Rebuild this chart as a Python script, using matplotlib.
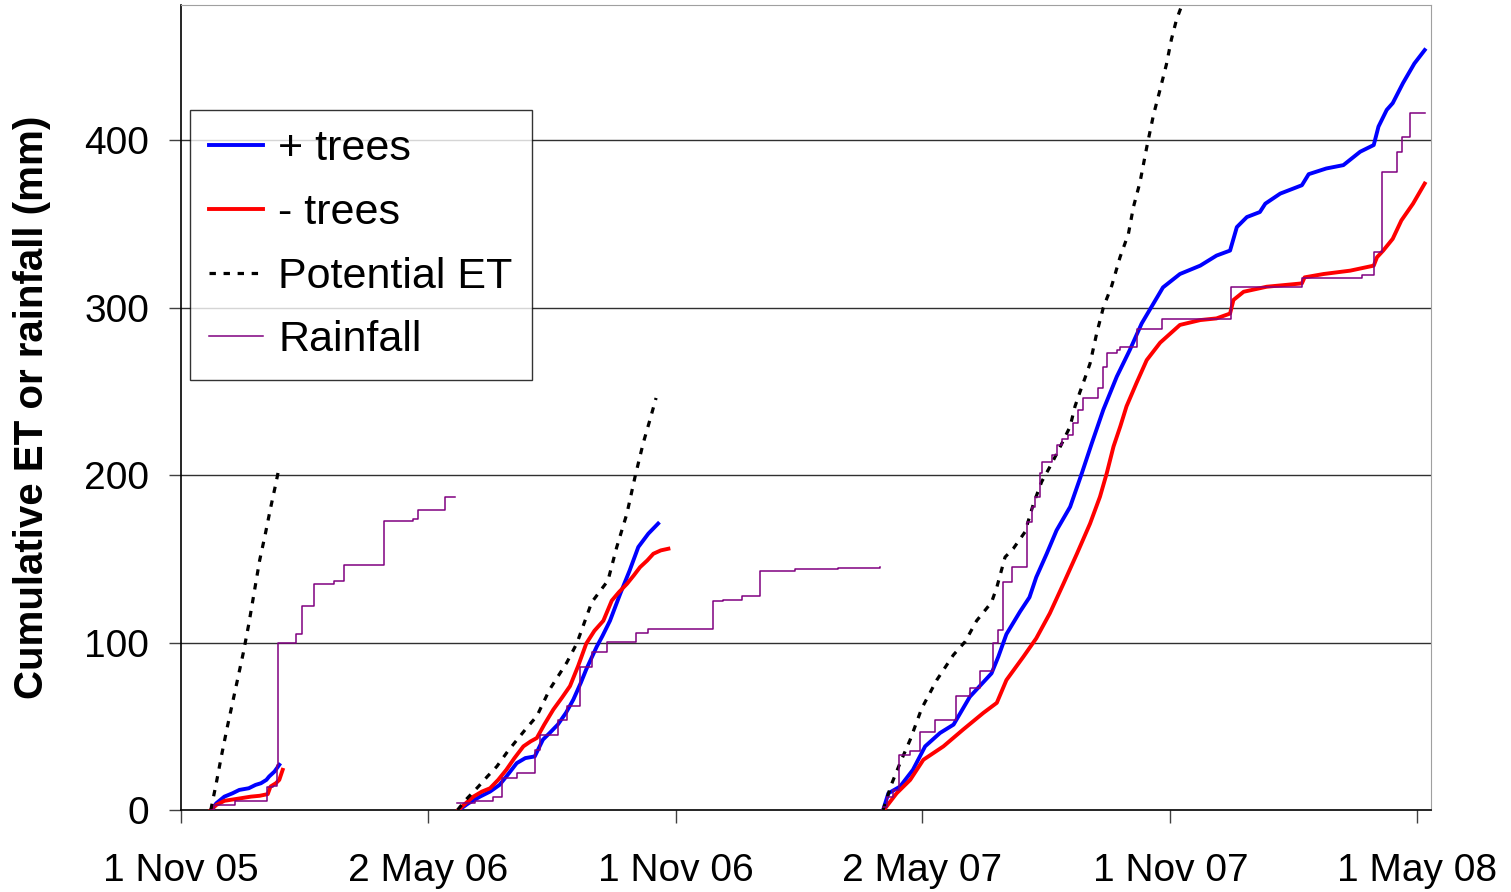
import numpy as np
import matplotlib
matplotlib.use('Agg')
import matplotlib.pyplot as plt

plt.rcParams['font.family'] = ['Liberation Sans', 'DejaVu Sans']

# x = days since 1 Nov 2005

# ---- period 1 (Nov-Dec 05)
et1_d = [22, 26, 30, 34, 38, 42, 46, 50, 54, 58, 62, 66, 70, 72]
et1_v = [0, 16, 33, 49, 64, 79, 94, 111, 130, 149, 164, 180, 195, 203]
tr1_d = [22.5, 26, 32, 38, 43, 50, 55, 59, 63, 65, 69, 72.5]
tr1_v = [0, 4, 8, 10, 12, 13, 15, 16, 18, 20, 23, 27]
nt1_d = [22, 26, 32, 40, 51.6, 58, 64, 66, 70, 72.5, 75]
nt1_v = [0, 3, 5.5, 6.5, 8, 8.5, 9.5, 14, 16, 18, 24]
rain1_d = [22, 24, 39.5, 63.5, 68, 71, 71.5, 85, 89, 98, 112.6, 120.5, 150, 171, 175, 195, 202]
rain1_v = [0, 3, 5.5, 13.5, 14.5, 27, 100, 105, 122, 135, 136.5, 146, 172.5, 174, 179, 187, 187]

# ---- period 2 (May-Oct 06)
et2_d = [204, 210, 219.4, 226, 233, 241, 249, 255, 262.5, 272, 284.6, 292, 303, 315, 321.5, 329, 335, 341, 346, 350.5]
et2_v = [0, 6, 14, 20, 26, 35, 43, 49, 56, 72, 88, 99.4, 124, 137, 157, 177, 199, 219, 233, 246]
tr2_d = [205, 212, 220.6, 228, 235, 241, 247.7, 254, 261, 267, 272, 278, 284, 289.5, 295, 299, 306.7, 311,
         316.5, 324, 331, 337.4, 344.8, 352]
tr2_v = [0, 4, 8, 11, 15, 21, 28, 31, 32, 42, 46, 51, 58, 66, 76, 84, 97.5, 104,
         113, 129, 143, 157, 165, 171]
nt2_d = [204.6, 210, 215.7, 222, 228, 234, 240, 246, 252.6, 258, 262.5, 268, 274.7, 281, 287, 293, 299, 305,
         311.6, 317.8, 323, 329, 334, 338.7, 344, 348.5, 354, 359.6]
nt2_v = [0, 4, 8, 11, 13, 18, 24, 31, 38, 41, 43, 51, 60, 67, 74, 86, 99.4, 107,
         113, 125, 130, 135, 140, 145, 149, 153, 155, 156]
rain2_d = [203.4, 217, 230.4, 237, 248, 261, 265, 278, 284.6, 294.4, 303, 314, 336, 344.8, 392.3, 400,
           413.7, 427, 453, 485, 515.7]
rain2_v = [4.4, 5.6, 8, 19, 22, 36, 45, 54, 62, 85.5, 94.4, 100.4, 105.4, 107.8, 124.8, 125.5,
           128, 142.7, 143.6, 144.2, 144.8]

# ---- period 3 (May 07 - May 08)
et3_d = [518, 524, 530.5, 538, 546.5, 557.6, 569.8, 578.5, 587, 598, 601.9, 608, 614, 622.7, 629, 635, 642.5,
         650, 656, 659.6, 663, 667, 670.7, 675.6, 680.5, 686.7, 692.8, 699, 702.7, 707.6, 712.6, 717.5,
         722, 727, 730.7, 734.4, 738, 741]
et3_v = [0, 15, 28, 42, 60.7, 77.6, 92.5, 100.5, 113, 124, 133, 151, 156, 166, 183, 196, 207,
         219, 229, 241, 249, 258, 266.6, 284.6, 300, 313, 330, 344, 360, 375, 396, 415,
         429, 445, 460, 471.6, 479.6, 490]
tr3_d = [518, 521.9, 530.5, 540, 549, 560, 570, 582, 598, 603, 609, 619, 626, 631, 638.7, 646, 656, 664.6,
         672, 680.5, 690.4, 700, 708.8, 715, 724.5, 737, 752, 764, 774, 779, 786.4, 796, 800, 811, 827,
         832, 845, 857.6, 870, 880, 883.5, 889.6, 894, 901.6, 910, 917.6]
tr3_v = [0, 10, 14, 24, 38, 46, 51, 67.6, 81.6, 91.5, 105, 118.4, 127, 139, 153, 167, 181, 201,
         219, 239, 258.7, 274.6, 290.5, 299, 312, 320, 325, 331, 334, 348, 354, 357, 362, 368, 373,
         379.6, 383, 385, 393, 397, 408, 418, 422, 434, 445.7, 453.7]
nt3_d = [518.5, 528, 538, 547.7, 562.5, 577, 592, 601.9, 609, 621.5, 631, 641, 651, 661, 670.7, 678, 683,
         688, 693, 697.6, 705, 712.5, 722.4, 737, 752, 764, 774, 776.5, 784, 801, 827, 829, 843, 862.6,
         880, 882.4, 887, 894, 900.4, 909, 917.6]
nt3_v = [0, 10, 18, 30, 38, 48, 58, 64, 77.6, 91.5, 102.5, 117.4, 135, 153, 171, 187, 201,
         217, 229, 241, 255, 268.6, 279, 289.6, 292.5, 293.5, 296.4, 304.5, 309.4, 312.4, 314.4, 318, 320, 322,
         325, 330, 334, 341, 352, 362, 374]
rain3_d = [518.2, 520.7, 525, 530, 537.9, 545.3, 556.3, 571.8, 582.2, 589.5, 599.4, 603, 606.7, 613, 624.4,
           627.7, 630, 633.8, 635, 642.4, 646.1, 649.8, 654.7, 658.4, 662, 665.8, 676.8, 680.5, 683, 690.4,
           692.8, 705.1, 723.6, 775, 827, 871, 880, 886, 897, 901, 907, 917.6]
rain3_v = [2, 8, 12, 33, 35, 46.8, 54, 68, 73, 83, 99.5, 107.5, 136, 145, 172,
           181, 187, 201, 208, 212, 218, 221.6, 224, 231, 239, 246, 252, 264.6, 272.6, 274.6,
           276.6, 287, 293, 312.5, 317.4, 319.4, 333, 381, 393, 402, 416, 416]

tick_days = [0, 182, 365, 547, 730, 912]
tick_labels = ['1 Nov 05', '2 May 06', '1 Nov 06', '2 May 07', '1 Nov 07', '1 May 08']

fig = plt.figure(figsize=(15.11, 8.92), dpi=100)
ax = fig.add_axes([0.1198, 0.0919, 0.8273, 0.9025])

blue = '#0000FF'
red = '#FF0000'
purple = '#800080'
dash = (0, (2.0, 2.4))

for i, (d, v) in enumerate([(tr1_d, tr1_v), (tr2_d, tr2_v), (tr3_d, tr3_v)]):
    ax.plot(d, v, color=blue, lw=2.8, label='+ trees' if i == 0 else None, zorder=3)
for i, (d, v) in enumerate([(nt1_d, nt1_v), (nt2_d, nt2_v), (nt3_d, nt3_v)]):
    ax.plot(d, v, color=red, lw=2.8, label='- trees' if i == 0 else None, zorder=3)
for i, (d, v) in enumerate([(et1_d, et1_v), (et2_d, et2_v), (et3_d, et3_v)]):
    ax.plot(d, v, color='black', lw=2.3, linestyle=dash, label='Potential ET' if i == 0 else None, zorder=3)
for i, (d, v) in enumerate([(rain1_d, rain1_v), (rain2_d, rain2_v), (rain3_d, rain3_v)]):
    ax.plot(d, v, color=purple, lw=1.1, drawstyle='steps-post', label='Rainfall' if i == 0 else None, zorder=4)

ax.set_xlim(0, 922.3)
ax.set_ylim(0, 480.6)
ax.set_yticks([0, 100, 200, 300, 400])
ax.set_xticks(tick_days)
ax.set_xticklabels(tick_labels)
for y in [100, 200, 300, 400]:
    ax.axhline(y, color='#303030', lw=1.0, zorder=1)

ax.tick_params(axis='x', direction='out', length=9, width=1, labelsize=28, pad=22, color='#404040')
ax.tick_params(axis='y', direction='out', length=9, width=1, labelsize=28, pad=14, color='#404040')
ax.spines['left'].set_color('black')
ax.spines['bottom'].set_color('black')
ax.spines['left'].set_linewidth(1.2)
ax.spines['bottom'].set_linewidth(1.2)
ax.spines['top'].set_color('#A0A0A0')
ax.spines['right'].set_color('#A0A0A0')

ax.set_ylabel('Cumulative ET or rainfall (mm)', fontsize=29, fontweight='bold')
ax.yaxis.set_label_coords(-0.104, 0.5)

leg = ax.legend(loc='upper left', bbox_to_anchor=(0.0072, 0.8696), borderaxespad=0,
                fontsize=31, frameon=True, fancybox=False, edgecolor='black',
                handlelength=1.25, handletextpad=0.35, labelspacing=0.55, borderpad=0.45)
leg.get_frame().set_linewidth(1.0)

plt.savefig('out.png', dpi=100)
